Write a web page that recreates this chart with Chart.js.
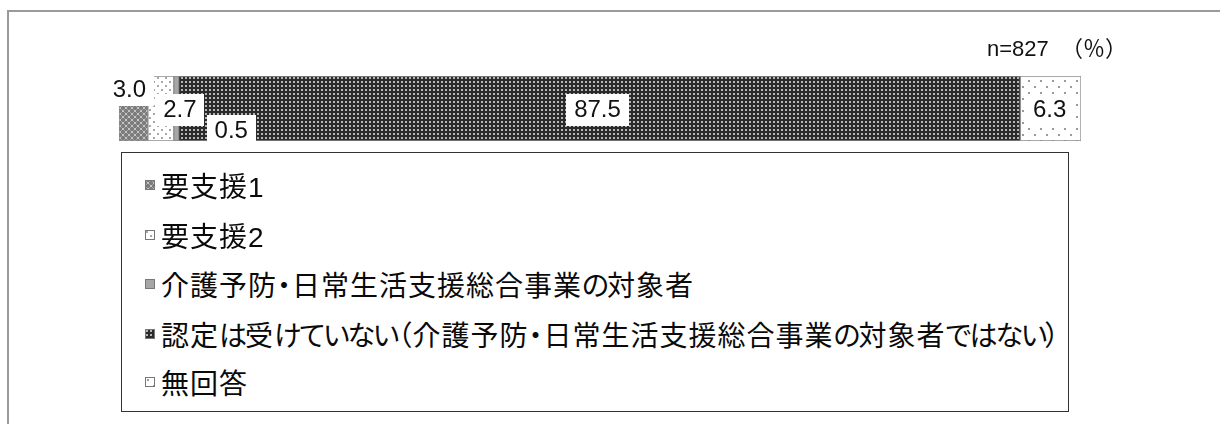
<!DOCTYPE html>
<html lang="ja">
<head>
<meta charset="utf-8">
<script src="https://cdn.jsdelivr.net/npm/chart.js@4/dist/chart.umd.min.js"></script>
<style>
  html, body { margin: 0; padding: 0; background: #fff; overflow: hidden; }
  #page { position: relative; width: 1220px; height: 424px; overflow: hidden; }
  #frameTop { position: absolute; left: 7px; top: 10px; width: 1220px; height: 2px; background: #9a9a9a; }
  #frameLeft { position: absolute; left: 7px; top: 10px; width: 2px; height: 424px; background: #9a9a9a; }
  #chartBox { position: absolute; left: 0; top: 0; width: 1220px; height: 150px; }
  #note { position: absolute; left: 987px; top: 30px; font: 22px "Liberation Sans", "Noto Sans CJK JP", sans-serif; color: #111; white-space: pre; }
  #legend { position: absolute; left: 121px; top: 152px; width: 948px; height: 260px; border: 1.5px solid #333; box-sizing: border-box; }
  .leg-row { position: absolute; left: 0; height: 36px; display: flex; align-items: center; }
  .leg-row canvas { margin-left: 23px; margin-right: 6px; }
  .leg-row span.txt { font: 28px "Liberation Sans", "Noto Sans CJK JP", sans-serif; font-feature-settings: "palt"; letter-spacing: 1px; color: #0a0a0a; white-space: nowrap; }
  .leg-row span.kana { letter-spacing: -2px; }
</style>
</head>
<body>
<div id="page">
  <div id="frameTop"></div>
  <div id="frameLeft"></div>
  <div id="chartBox"><canvas id="bar" width="1220" height="150"></canvas></div>
  <div id="note"></div>
  <div id="legend"></div>
</div>
<script>
"use strict";
const categories = [""];
const seriesLabels = [
  "要支援1",
  "要支援2",
  "介護予防・日常生活支援総合事業の対象者",
  "認定は受けていない（介護予防・日常生活支援総合事業の対象者ではない）",
  "無回答"
];
const seriesValues = [3.0, 2.7, 0.5, 87.5, 6.3];
const sampleNote = "n=827  （％）";

// fill style per series, and where each value label sits relative to its segment centre
const patternKinds = ["cross", "dotsDense", "solid", "darkGrid", "dotsSparse"];
const labelOffsets = [[-4, -19], [19, 1], [55, 22], [-2, 1], [-1, 1]];

function makePattern(kind) {
  const c = document.createElement("canvas");
  const g = c.getContext("2d");
  if (kind === "cross") {
    c.width = 6; c.height = 6;
    g.fillStyle = "#7c7c7c"; g.fillRect(0, 0, 6, 6);
    g.fillStyle = "#c4c4c4";
    g.fillRect(0, 0, 1, 1); g.fillRect(2, 2, 2, 2); g.fillRect(5, 5, 1, 1);
    g.fillRect(5, 0, 1, 1); g.fillRect(0, 5, 1, 1);
    g.fillStyle = "#a0a0a0";
    g.fillRect(1, 1, 1, 1); g.fillRect(4, 4, 1, 1); g.fillRect(4, 1, 1, 1); g.fillRect(1, 4, 1, 1);
  } else if (kind === "dotsDense") {
    c.width = 8; c.height = 8;
    g.fillStyle = "#fff"; g.fillRect(0, 0, 8, 8);
    g.fillStyle = "#a8a8a8";
    g.fillRect(1, 1, 2, 2); g.fillRect(5, 5, 2, 2);
  } else if (kind === "solid") {
    c.width = 2; c.height = 2;
    g.fillStyle = "#a6a6a6"; g.fillRect(0, 0, 2, 2);
  } else if (kind === "darkGrid") {
    c.width = 4; c.height = 4;
    g.fillStyle = "#2a2a2a"; g.fillRect(0, 0, 4, 4);
    g.fillStyle = "#b5b5b5"; g.fillRect(1, 1, 2, 2);
  } else {
    c.width = 12; c.height = 12;
    g.fillStyle = "#fff"; g.fillRect(0, 0, 12, 12);
    g.fillStyle = "#9a9a9a";
    g.fillRect(2, 2, 2, 2); g.fillRect(8, 8, 2, 2);
  }
  return document.getElementById("bar").getContext("2d").createPattern(c, "repeat");
}

const fills = patternKinds.map(makePattern);

const valueLabels = {
  id: "valueLabels",
  afterDatasetsDraw(chart) {
    const ctx = chart.ctx;
    ctx.save();
    ctx.font = "24px 'Liberation Sans', Arial, sans-serif";
    ctx.textAlign = "center";
    ctx.textBaseline = "middle";
    chart.data.datasets.forEach((ds, i) => {
      const el = chart.getDatasetMeta(i).data[0];
      if (!el) return;
      const xc = (el.x + el.base) / 2 + labelOffsets[i][0];
      const yc = el.y + labelOffsets[i][1];
      const txt = Number(ds.data[0]).toFixed(1);
      const w = ctx.measureText(txt).width + 16;
      const h = 32;
      ctx.fillStyle = "#fff";
      ctx.fillRect(Math.round(xc - w / 2), Math.round(yc - h / 2), Math.round(w), h);
      ctx.fillStyle = "#111";
      ctx.fillText(txt, xc, yc + 1);
    });
    ctx.restore();
  }
};

new Chart(document.getElementById("bar"), {
  type: "bar",
  data: {
    labels: categories,
    datasets: seriesLabels.map((name, i) => ({
      label: name,
      data: [seriesValues[i]],
      backgroundColor: fills[i],
      borderColor: "#8c8c8c",
      borderWidth: 1,
      borderSkipped: false,
      barPercentage: 1,
      categoryPercentage: 1
    }))
  },
  options: {
    indexAxis: "y",
    responsive: false,
    animation: false,
    layout: { padding: { left: 119, right: 139, top: 76, bottom: 9 } },
    plugins: { legend: { display: false }, tooltip: { enabled: false } },
    scales: {
      x: { stacked: true, min: 0, max: 100, display: false },
      y: { stacked: true, display: false }
    }
  },
  plugins: [valueLabels]
});

document.getElementById("note").textContent = sampleNote;

// legend box, one row per series; hiragana runs are set a bit tighter
const legend = document.getElementById("legend");
const rowCenters = [32, 82, 131, 181, 229];
seriesLabels.forEach((name, i) => {
  const row = document.createElement("div");
  row.className = "leg-row";
  row.style.top = (rowCenters[i] - 18) + "px";
  const sw = document.createElement("canvas");
  sw.width = 10; sw.height = 10;
  const g = sw.getContext("2d");
  g.fillStyle = fills[i]; g.fillRect(0, 0, 10, 10);
  g.strokeStyle = "#777"; g.lineWidth = 1; g.strokeRect(0.5, 0.5, 9, 9);
  const sp = document.createElement("span");
  sp.className = "txt";
  name.split(/([\u3040-\u309f]+)/).forEach(part => {
    if (!part) return;
    if (/^[\u3040-\u309f]+$/.test(part)) {
      const k = document.createElement("span");
      k.className = "kana";
      k.textContent = part;
      sp.appendChild(k);
    } else {
      sp.appendChild(document.createTextNode(part));
    }
  });
  row.appendChild(sw);
  row.appendChild(sp);
  legend.appendChild(row);
});
</script>
</body>
</html>
